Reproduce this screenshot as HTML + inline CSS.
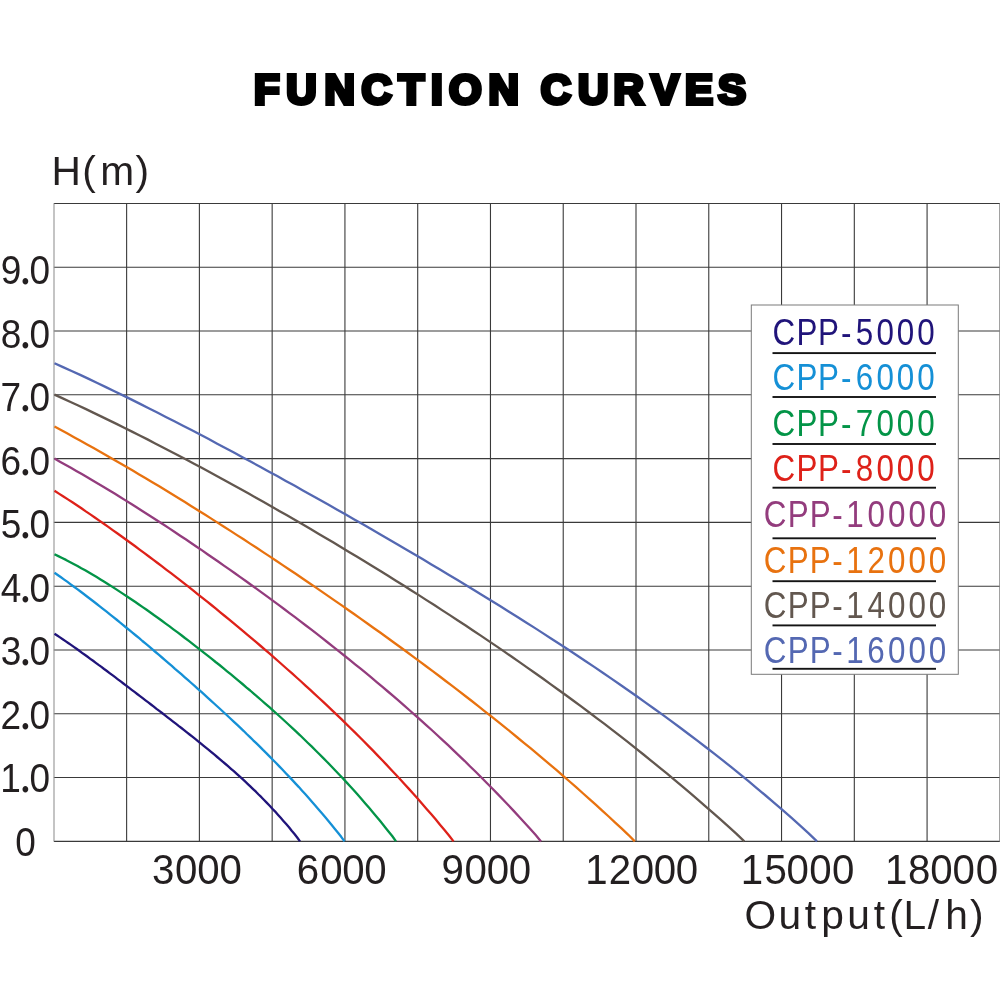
<!DOCTYPE html><html><head><meta charset="utf-8"><title>Function Curves</title><style>html,body{margin:0;padding:0;background:#fff;width:1000px;height:1001px;overflow:hidden}svg{display:block}</style></head><body>
<svg width="1000" height="1001" viewBox="0 0 1000 1001">
<rect width="1000" height="1001" fill="#fff"/>
<g stroke="#3a3a3a" stroke-width="1.1" fill="none">
<line x1="126.62" y1="203.45" x2="126.62" y2="841.35"/>
<line x1="199.39" y1="203.45" x2="199.39" y2="841.35"/>
<line x1="272.16" y1="203.45" x2="272.16" y2="841.35"/>
<line x1="344.93" y1="203.45" x2="344.93" y2="841.35"/>
<line x1="417.70" y1="203.45" x2="417.70" y2="841.35"/>
<line x1="490.47" y1="203.45" x2="490.47" y2="841.35"/>
<line x1="563.23" y1="203.45" x2="563.23" y2="841.35"/>
<line x1="636.00" y1="203.45" x2="636.00" y2="841.35"/>
<line x1="708.77" y1="203.45" x2="708.77" y2="841.35"/>
<line x1="781.54" y1="203.45" x2="781.54" y2="841.35"/>
<line x1="854.31" y1="203.45" x2="854.31" y2="841.35"/>
<line x1="927.08" y1="203.45" x2="927.08" y2="841.35"/>
<line x1="53.85" y1="841.35" x2="999.85" y2="841.35"/>
<line x1="53.85" y1="777.56" x2="999.85" y2="777.56"/>
<line x1="53.85" y1="713.77" x2="999.85" y2="713.77"/>
<line x1="53.85" y1="649.98" x2="999.85" y2="649.98"/>
<line x1="53.85" y1="586.19" x2="999.85" y2="586.19"/>
<line x1="53.85" y1="522.40" x2="999.85" y2="522.40"/>
<line x1="53.85" y1="458.61" x2="999.85" y2="458.61"/>
<line x1="53.85" y1="394.82" x2="999.85" y2="394.82"/>
<line x1="53.85" y1="331.03" x2="999.85" y2="331.03"/>
<line x1="53.85" y1="267.24" x2="999.85" y2="267.24"/>
<line x1="53.85" y1="203.45" x2="999.85" y2="203.45"/>
</g>
<line x1="54.0" y1="203.45" x2="54.0" y2="841.35" stroke="#949494" stroke-width="1.1"/>
<line x1="999.85" y1="203.45" x2="999.85" y2="841.35" stroke="#7a7a7a" stroke-width="1.1"/>
<g fill="none" stroke-width="2.3" stroke-linejoin="round">
<path stroke="#20147a" d="M54.5,633.7 L57.2,635.5 L60.0,637.4 L62.7,639.2 L65.5,641.1 L68.2,643.0 L71.0,644.9 L73.8,646.9 L76.5,648.8 L79.3,650.8 L82.0,652.8 L84.8,654.8 L87.6,656.8 L90.3,658.8 L93.1,660.8 L95.8,662.8 L98.6,664.9 L101.4,666.9 L104.1,669.0 L106.9,671.0 L109.6,673.1 L112.4,675.2 L115.1,677.2 L117.9,679.3 L120.7,681.4 L123.4,683.5 L126.2,685.6 L128.9,687.7 L131.7,689.8 L134.5,691.9 L137.2,694.0 L140.0,696.1 L142.7,698.2 L145.5,700.3 L148.3,702.4 L151.0,704.5 L153.8,706.6 L156.5,708.8 L159.3,710.9 L162.1,713.0 L164.8,715.1 L167.6,717.3 L170.3,719.4 L173.1,721.6 L175.8,723.7 L178.6,725.9 L181.4,728.0 L184.1,730.2 L186.9,732.4 L189.6,734.5 L192.4,736.7 L195.2,738.9 L197.9,741.1 L200.7,743.4 L203.4,745.6 L206.2,747.8 L209.0,750.1 L211.7,752.4 L214.5,754.7 L217.2,757.0 L220.0,759.3 L222.7,761.7 L225.5,764.0 L228.3,766.4 L231.0,768.8 L233.8,771.2 L236.5,773.7 L239.3,776.2 L242.1,778.7 L244.8,781.2 L247.6,783.8 L250.3,786.4 L253.1,789.1 L255.9,791.7 L258.6,794.5 L261.4,797.2 L264.1,800.0 L266.9,802.9 L269.7,805.7 L272.4,808.7 L275.2,811.6 L277.9,814.7 L280.7,817.8 L283.4,820.9 L286.2,824.1 L289.0,827.3 L291.7,830.7 L294.5,834.0 L297.2,837.5 L300.0,841.4"/>
<path stroke="#1590d6" d="M54.5,572.7 L57.7,575.0 L61.0,577.3 L64.2,579.6 L67.5,581.9 L70.7,584.3 L74.0,586.7 L77.3,589.1 L80.5,591.5 L83.8,594.0 L87.0,596.5 L90.3,599.0 L93.6,601.5 L96.8,604.0 L100.1,606.6 L103.3,609.1 L106.6,611.7 L109.9,614.3 L113.1,616.9 L116.4,619.5 L119.6,622.2 L122.9,624.8 L126.1,627.5 L129.4,630.2 L132.7,632.8 L135.9,635.5 L139.2,638.2 L142.4,641.0 L145.7,643.7 L149.0,646.4 L152.2,649.2 L155.5,652.0 L158.7,654.7 L162.0,657.5 L165.3,660.3 L168.5,663.1 L171.8,665.9 L175.0,668.8 L178.3,671.6 L181.6,674.4 L184.8,677.3 L188.1,680.2 L191.3,683.0 L194.6,685.9 L197.8,688.8 L201.1,691.7 L204.4,694.7 L207.6,697.6 L210.9,700.6 L214.1,703.5 L217.4,706.5 L220.7,709.5 L223.9,712.5 L227.2,715.5 L230.4,718.5 L233.7,721.6 L237.0,724.7 L240.2,727.7 L243.5,730.8 L246.7,734.0 L250.0,737.1 L253.2,740.3 L256.5,743.4 L259.8,746.6 L263.0,749.9 L266.3,753.1 L269.5,756.4 L272.8,759.7 L276.1,763.0 L279.3,766.4 L282.6,769.8 L285.8,773.2 L289.1,776.6 L292.4,780.1 L295.6,783.6 L298.9,787.1 L302.1,790.7 L305.4,794.3 L308.7,798.0 L311.9,801.7 L315.2,805.4 L318.4,809.2 L321.7,813.0 L324.9,816.8 L328.2,820.7 L331.5,824.7 L334.7,828.7 L338.0,832.7 L341.2,836.8 L344.5,841.4"/>
<path stroke="#039447" d="M54.5,554.2 L58.3,556.1 L62.1,558.0 L66.0,559.9 L69.8,561.9 L73.6,563.9 L77.5,566.0 L81.3,568.2 L85.2,570.3 L89.0,572.6 L92.8,574.8 L96.7,577.1 L100.5,579.4 L104.3,581.8 L108.2,584.2 L112.0,586.6 L115.9,589.1 L119.7,591.6 L123.5,594.1 L127.4,596.7 L131.2,599.2 L135.0,601.8 L138.9,604.5 L142.7,607.1 L146.6,609.8 L150.4,612.5 L154.2,615.3 L158.1,618.0 L161.9,620.8 L165.7,623.6 L169.6,626.4 L173.4,629.3 L177.3,632.2 L181.1,635.0 L184.9,638.0 L188.8,640.9 L192.6,643.8 L196.4,646.8 L200.3,649.8 L204.1,652.8 L208.0,655.8 L211.8,658.9 L215.6,662.0 L219.5,665.0 L223.3,668.2 L227.1,671.3 L231.0,674.4 L234.8,677.6 L238.7,680.8 L242.5,684.0 L246.3,687.3 L250.2,690.5 L254.0,693.8 L257.8,697.1 L261.7,700.5 L265.5,703.8 L269.4,707.2 L273.2,710.6 L277.0,714.0 L280.9,717.5 L284.7,721.0 L288.5,724.5 L292.4,728.1 L296.2,731.7 L300.1,735.3 L303.9,739.0 L307.7,742.7 L311.6,746.4 L315.4,750.2 L319.2,754.0 L323.1,757.9 L326.9,761.7 L330.8,765.7 L334.6,769.7 L338.4,773.7 L342.3,777.8 L346.1,781.9 L349.9,786.1 L353.8,790.3 L357.6,794.6 L361.5,799.0 L365.3,803.4 L369.1,807.8 L373.0,812.4 L376.8,817.0 L380.6,821.6 L384.5,826.4 L388.3,831.2 L392.2,836.0 L396.0,841.4"/>
<path stroke="#de2119" d="M54.5,490.7 L58.9,493.6 L63.4,496.5 L67.9,499.4 L72.4,502.3 L76.9,505.3 L81.4,508.3 L85.8,511.4 L90.3,514.4 L94.8,517.5 L99.3,520.6 L103.8,523.7 L108.3,526.9 L112.7,530.1 L117.2,533.3 L121.7,536.5 L126.2,539.7 L130.7,543.0 L135.2,546.3 L139.6,549.6 L144.1,552.9 L148.6,556.2 L153.1,559.6 L157.6,563.0 L162.1,566.4 L166.5,569.8 L171.0,573.2 L175.5,576.7 L180.0,580.2 L184.5,583.7 L189.0,587.2 L193.4,590.7 L197.9,594.3 L202.4,597.8 L206.9,601.4 L211.4,605.0 L215.9,608.7 L220.3,612.3 L224.8,616.0 L229.3,619.6 L233.8,623.4 L238.3,627.1 L242.8,630.8 L247.2,634.6 L251.7,638.4 L256.2,642.2 L260.7,646.0 L265.2,649.9 L269.7,653.7 L274.2,657.6 L278.6,661.5 L283.1,665.5 L287.6,669.5 L292.1,673.4 L296.6,677.5 L301.1,681.5 L305.5,685.6 L310.0,689.7 L314.5,693.8 L319.0,698.0 L323.5,702.2 L328.0,706.4 L332.4,710.6 L336.9,714.9 L341.4,719.2 L345.9,723.6 L350.4,728.0 L354.9,732.4 L359.3,736.8 L363.8,741.3 L368.3,745.9 L372.8,750.4 L377.3,755.1 L381.8,759.7 L386.2,764.4 L390.7,769.2 L395.2,774.0 L399.7,778.8 L404.2,783.7 L408.7,788.6 L413.1,793.6 L417.6,798.6 L422.1,803.7 L426.6,808.9 L431.1,814.1 L435.6,819.3 L440.0,824.7 L444.5,830.0 L449.0,835.5 L453.5,841.4"/>
<path stroke="#933c7d" d="M54.5,458.6 L59.9,461.7 L65.4,464.7 L70.9,467.8 L76.3,470.9 L81.8,474.1 L87.3,477.3 L92.7,480.5 L98.2,483.7 L103.7,487.0 L109.1,490.3 L114.6,493.6 L120.1,497.0 L125.5,500.4 L131.0,503.8 L136.5,507.3 L141.9,510.7 L147.4,514.2 L152.9,517.7 L158.3,521.3 L163.8,524.8 L169.3,528.4 L174.7,532.0 L180.2,535.7 L185.7,539.3 L191.1,543.0 L196.6,546.7 L202.1,550.4 L207.5,554.2 L213.0,558.0 L218.5,561.8 L223.9,565.6 L229.4,569.4 L234.9,573.3 L240.3,577.1 L245.8,581.0 L251.3,585.0 L256.7,588.9 L262.2,592.9 L267.7,596.9 L273.1,600.9 L278.6,604.9 L284.1,609.0 L289.5,613.1 L295.0,617.2 L300.5,621.4 L305.9,625.5 L311.4,629.7 L316.9,633.9 L322.3,638.2 L327.8,642.5 L333.3,646.8 L338.7,651.1 L344.2,655.5 L349.7,659.9 L355.1,664.3 L360.6,668.7 L366.1,673.2 L371.5,677.7 L377.0,682.3 L382.5,686.9 L387.9,691.5 L393.4,696.2 L398.9,700.9 L404.3,705.7 L409.8,710.5 L415.3,715.3 L420.7,720.2 L426.2,725.1 L431.7,730.0 L437.1,735.0 L442.6,740.1 L448.1,745.2 L453.5,750.4 L459.0,755.6 L464.5,760.8 L469.9,766.2 L475.4,771.5 L480.9,777.0 L486.3,782.5 L491.8,788.0 L497.3,793.6 L502.7,799.3 L508.2,805.0 L513.7,810.9 L519.1,816.7 L524.6,822.7 L530.1,828.7 L535.5,834.8 L541.0,841.4"/>
<path stroke="#e8720f" d="M54.5,426.6 L61.0,430.1 L67.5,433.6 L74.0,437.2 L80.5,440.8 L87.1,444.4 L93.6,448.1 L100.1,451.7 L106.6,455.5 L113.1,459.2 L119.7,463.0 L126.2,466.8 L132.7,470.6 L139.2,474.4 L145.7,478.3 L152.3,482.2 L158.8,486.1 L165.3,490.1 L171.8,494.1 L178.3,498.1 L184.9,502.1 L191.4,506.2 L197.9,510.2 L204.4,514.3 L210.9,518.4 L217.5,522.6 L224.0,526.7 L230.5,530.9 L237.0,535.1 L243.6,539.3 L250.1,543.6 L256.6,547.8 L263.1,552.1 L269.6,556.4 L276.2,560.7 L282.7,565.1 L289.2,569.5 L295.7,573.8 L302.2,578.3 L308.8,582.7 L315.3,587.1 L321.8,591.6 L328.3,596.1 L334.8,600.6 L341.4,605.1 L347.9,609.7 L354.4,614.3 L360.9,618.9 L367.4,623.5 L374.0,628.2 L380.5,632.8 L387.0,637.5 L393.5,642.2 L400.1,647.0 L406.6,651.8 L413.1,656.6 L419.6,661.4 L426.1,666.2 L432.7,671.1 L439.2,676.0 L445.7,681.0 L452.2,685.9 L458.7,690.9 L465.3,696.0 L471.8,701.0 L478.3,706.1 L484.8,711.3 L491.3,716.4 L497.9,721.6 L504.4,726.9 L510.9,732.1 L517.4,737.5 L523.9,742.8 L530.5,748.2 L537.0,753.6 L543.5,759.1 L550.0,764.6 L556.6,770.2 L563.1,775.8 L569.6,781.5 L576.1,787.2 L582.6,793.0 L589.2,798.8 L595.7,804.6 L602.2,810.6 L608.7,816.5 L615.2,822.6 L621.8,828.6 L628.3,834.8 L634.8,841.4"/>
<path stroke="#62574f" d="M54.5,394.6 L62.2,398.1 L70.0,401.7 L77.7,405.3 L85.5,408.9 L93.2,412.6 L101.0,416.4 L108.7,420.1 L116.5,423.9 L124.2,427.7 L132.0,431.6 L139.7,435.5 L147.5,439.4 L155.2,443.4 L163.0,447.4 L170.7,451.4 L178.5,455.5 L186.2,459.6 L194.0,463.7 L201.7,467.8 L209.5,472.0 L217.2,476.2 L225.0,480.5 L232.7,484.7 L240.5,489.0 L248.2,493.3 L256.0,497.7 L263.7,502.0 L271.5,506.4 L279.2,510.9 L287.0,515.3 L294.7,519.8 L302.5,524.3 L310.2,528.8 L318.0,533.4 L325.7,538.0 L333.5,542.6 L341.2,547.2 L349.0,551.9 L356.7,556.6 L364.5,561.3 L372.2,566.0 L380.0,570.8 L387.7,575.6 L395.5,580.4 L403.3,585.3 L411.0,590.2 L418.8,595.1 L426.5,600.1 L434.3,605.0 L442.0,610.1 L449.8,615.1 L457.5,620.2 L465.3,625.3 L473.0,630.5 L480.8,635.6 L488.5,640.9 L496.3,646.1 L504.0,651.4 L511.8,656.8 L519.5,662.1 L527.3,667.6 L535.0,673.0 L542.8,678.5 L550.5,684.1 L558.3,689.7 L566.0,695.3 L573.8,701.0 L581.5,706.7 L589.3,712.5 L597.0,718.4 L604.8,724.2 L612.5,730.2 L620.3,736.2 L628.0,742.2 L635.8,748.4 L643.5,754.5 L651.3,760.8 L659.0,767.1 L666.8,773.4 L674.5,779.9 L682.3,786.4 L690.0,792.9 L697.8,799.6 L705.5,806.3 L713.3,813.1 L721.0,819.9 L728.8,826.9 L736.5,833.9 L744.3,841.4"/>
<path stroke="#5468b2" d="M54.5,363.2 L63.0,367.1 L71.6,371.0 L80.2,374.9 L88.7,378.9 L97.3,383.0 L105.9,387.1 L114.4,391.2 L123.0,395.4 L131.6,399.6 L140.1,403.9 L148.7,408.2 L157.3,412.5 L165.8,416.9 L174.4,421.3 L183.0,425.7 L191.5,430.1 L200.1,434.6 L208.7,439.1 L217.2,443.7 L225.8,448.2 L234.4,452.8 L242.9,457.4 L251.5,462.1 L260.1,466.7 L268.6,471.4 L277.2,476.1 L285.8,480.9 L294.4,485.6 L302.9,490.4 L311.5,495.2 L320.1,500.0 L328.6,504.8 L337.2,509.7 L345.8,514.5 L354.3,519.4 L362.9,524.3 L371.5,529.3 L380.0,534.2 L388.6,539.2 L397.2,544.2 L405.7,549.2 L414.3,554.3 L422.9,559.3 L431.4,564.4 L440.0,569.5 L448.6,574.7 L457.1,579.8 L465.7,585.0 L474.3,590.2 L482.8,595.5 L491.4,600.8 L500.0,606.1 L508.6,611.4 L517.1,616.8 L525.7,622.2 L534.3,627.6 L542.8,633.1 L551.4,638.7 L560.0,644.2 L568.5,649.8 L577.1,655.5 L585.7,661.2 L594.2,666.9 L602.8,672.7 L611.4,678.6 L619.9,684.5 L628.5,690.5 L637.1,696.5 L645.6,702.6 L654.2,708.7 L662.8,714.9 L671.3,721.2 L679.9,727.5 L688.5,734.0 L697.0,740.4 L705.6,747.0 L714.2,753.7 L722.8,760.4 L731.3,767.2 L739.9,774.2 L748.5,781.2 L757.0,788.3 L765.6,795.5 L774.2,802.8 L782.7,810.2 L791.3,817.7 L799.9,825.3 L808.4,833.1 L817.0,841.4"/>
</g>
<rect x="751.3" y="305.0" width="207.0" height="369.3" fill="#fff" stroke="#7a7a7a" stroke-width="1"/>
<rect x="772.5" y="352.15" width="163.5" height="1.9" fill="#141414"/>
<rect x="772.5" y="396.05" width="163.5" height="1.9" fill="#141414"/>
<rect x="772.5" y="443.05" width="163.5" height="1.9" fill="#141414"/>
<rect x="772.5" y="486.75" width="163.5" height="1.9" fill="#141414"/>
<rect x="772.5" y="537.35" width="163.5" height="1.9" fill="#141414"/>
<rect x="772.5" y="580.25" width="163.5" height="1.9" fill="#141414"/>
<rect x="772.5" y="624.45" width="163.5" height="1.9" fill="#141414"/>
<rect x="772.5" y="667.85" width="163.5" height="1.9" fill="#141414"/>
<text x="254.12 286.25 324.62 361.62 398.38 430.88 448.88 488.62 513.62 540.75 577.95 613.50 650.88 684.88 718.12" y="104.00" font-size="42.0" fill="#000" stroke="#000" stroke-width="4.0" stroke-linejoin="miter" style="font-family:'Liberation Sans', sans-serif;font-weight:bold">FUNCTION CURVES</text>
<text x="51.45 82.27 100.36 135.60" y="185.20" font-size="40.70" fill="#231f20" style="font-family:'Liberation Sans', sans-serif">H(m)</text>
<text x="0.81 21.31 32.50" y="284.01" font-size="40.80" transform="scale(0.9070,1)" fill="#231f20" style="font-family:'Liberation Sans', sans-serif">9<tspan font-size="54" style="font-family:'Liberation Serif', serif">.</tspan>0</text>
<text x="0.81 21.31 32.50" y="347.52" font-size="40.80" transform="scale(0.9070,1)" fill="#231f20" style="font-family:'Liberation Sans', sans-serif">8<tspan font-size="54" style="font-family:'Liberation Serif', serif">.</tspan>0</text>
<text x="0.70 21.31 32.50" y="411.03" font-size="40.80" transform="scale(0.9070,1)" fill="#231f20" style="font-family:'Liberation Sans', sans-serif">7<tspan font-size="54" style="font-family:'Liberation Serif', serif">.</tspan>0</text>
<text x="0.60 21.31 32.50" y="474.54" font-size="40.80" transform="scale(0.9070,1)" fill="#231f20" style="font-family:'Liberation Sans', sans-serif">6<tspan font-size="54" style="font-family:'Liberation Serif', serif">.</tspan>0</text>
<text x="0.81 21.31 32.50" y="538.05" font-size="40.80" transform="scale(0.9070,1)" fill="#231f20" style="font-family:'Liberation Sans', sans-serif">5<tspan font-size="54" style="font-family:'Liberation Serif', serif">.</tspan>0</text>
<text x="0.91 21.31 32.50" y="601.56" font-size="40.80" transform="scale(0.9070,1)" fill="#231f20" style="font-family:'Liberation Sans', sans-serif">4<tspan font-size="54" style="font-family:'Liberation Serif', serif">.</tspan>0</text>
<text x="0.81 21.31 32.50" y="665.07" font-size="40.80" transform="scale(0.9070,1)" fill="#231f20" style="font-family:'Liberation Sans', sans-serif">3<tspan font-size="54" style="font-family:'Liberation Serif', serif">.</tspan>0</text>
<text x="0.70 21.31 32.50" y="728.58" font-size="40.80" transform="scale(0.9070,1)" fill="#231f20" style="font-family:'Liberation Sans', sans-serif">2<tspan font-size="54" style="font-family:'Liberation Serif', serif">.</tspan>0</text>
<text x="0.19 21.31 32.50" y="792.09" font-size="40.80" transform="scale(0.9070,1)" fill="#231f20" style="font-family:'Liberation Sans', sans-serif">1<tspan font-size="54" style="font-family:'Liberation Serif', serif">.</tspan>0</text>
<text x="16.74" y="855.60" font-size="40.80" transform="scale(0.9070,1)" fill="#231f20" style="font-family:'Liberation Sans', sans-serif">0</text>
<text x="158.27 182.33 205.46 228.58" y="883.90" font-size="41.90" transform="scale(0.9600,1)" fill="#231f20" style="font-family:'Liberation Sans', sans-serif">3000</text>
<text x="309.20 333.48 356.50 379.52" y="883.90" font-size="41.90" transform="scale(0.9600,1)" fill="#231f20" style="font-family:'Liberation Sans', sans-serif">6000</text>
<text x="459.94 483.79 506.91 530.04" y="883.90" font-size="41.90" transform="scale(0.9600,1)" fill="#231f20" style="font-family:'Liberation Sans', sans-serif">9000</text>
<text x="609.62 634.10 657.96 680.98 704.00" y="883.90" font-size="41.90" transform="scale(0.9600,1)" fill="#231f20" style="font-family:'Liberation Sans', sans-serif">12000</text>
<text x="771.70 796.29 819.31 843.06 866.71" y="883.90" font-size="41.90" transform="scale(0.9600,1)" fill="#231f20" style="font-family:'Liberation Sans', sans-serif">15000</text>
<text x="921.81 945.77 969.10 992.12 1016.50" y="883.90" font-size="41.90" transform="scale(0.9600,1)" fill="#231f20" style="font-family:'Liberation Sans', sans-serif">18000</text>
<text x="744.43 778.56 804.65 821.15 847.16 873.65 889.22 903.59 927.80 945.15 970.05" y="929.40" font-size="40.70" fill="#231f20" style="font-family:'Liberation Sans', sans-serif">Output(L/h)</text>
<text x="898.27 926.10 951.21 978.05 995.10 1019.06 1042.60 1066.44" y="344.60" font-size="36.50" transform="scale(0.8600,1)" fill="#20147a" style="font-family:'Liberation Sans', sans-serif">CPP-5000</text>
<text x="898.27 926.10 951.21 978.05 994.92 1019.06 1042.60 1066.44" y="390.10" font-size="36.50" transform="scale(0.8600,1)" fill="#1590d6" style="font-family:'Liberation Sans', sans-serif">CPP-6000</text>
<text x="898.27 926.10 951.21 978.05 995.01 1019.06 1042.60 1066.44" y="435.95" font-size="36.50" transform="scale(0.8600,1)" fill="#039447" style="font-family:'Liberation Sans', sans-serif">CPP-7000</text>
<text x="898.27 926.10 951.21 978.05 995.10 1019.06 1042.60 1066.44" y="481.20" font-size="36.50" transform="scale(0.8600,1)" fill="#de2119" style="font-family:'Liberation Sans', sans-serif">CPP-8000</text>
<text x="888.16 916.10 941.68 967.81 983.97 1008.77 1032.60 1056.44 1079.93" y="526.87" font-size="36.50" transform="scale(0.8600,1)" fill="#933c7d" style="font-family:'Liberation Sans', sans-serif">CPP-10000</text>
<text x="888.16 916.10 941.68 967.81 983.97 1008.68 1032.60 1056.44 1079.93" y="572.60" font-size="36.50" transform="scale(0.8600,1)" fill="#e8720f" style="font-family:'Liberation Sans', sans-serif">CPP-12000</text>
<text x="888.16 916.10 941.68 967.81 983.97 1008.86 1032.60 1056.44 1079.93" y="617.60" font-size="36.50" transform="scale(0.8600,1)" fill="#62574f" style="font-family:'Liberation Sans', sans-serif">CPP-14000</text>
<text x="888.16 916.10 941.68 967.81 983.97 1008.58 1032.60 1056.44 1079.93" y="663.00" font-size="36.50" transform="scale(0.8600,1)" fill="#5468b2" style="font-family:'Liberation Sans', sans-serif">CPP-16000</text>
</svg></body></html>
